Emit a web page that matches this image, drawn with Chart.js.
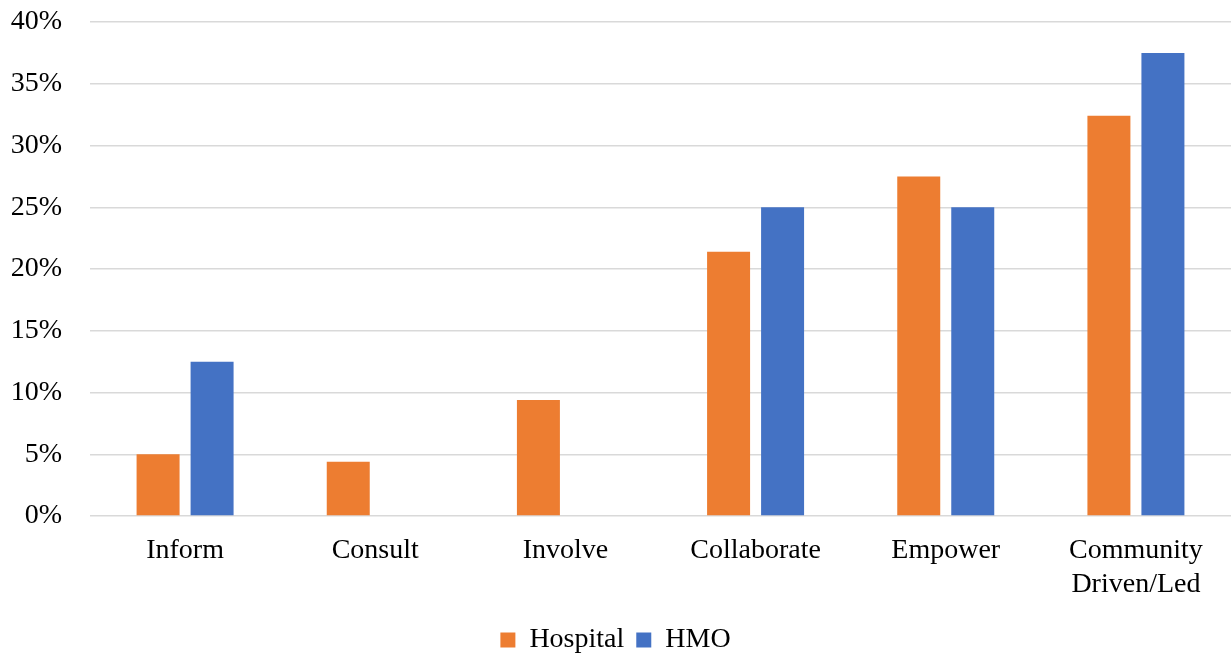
<!DOCTYPE html>
<html>
<head>
<meta charset="utf-8">
<script src="https://cdn.jsdelivr.net/npm/chart.js@4"></script>
<style>
  html, body { margin: 0; padding: 0; background: #fff; }
  #wrap { width: 1231px; height: 658px; }
</style>
</head>
<body>
<div id="wrap"><canvas id="chart"></canvas></div>
<script>
const categories = ['Inform', 'Consult', 'Involve', 'Collaborate', 'Empower', ['Community', 'Driven/Led']];
const hospital = [5.0, 4.4, 9.4, 21.4, 27.5, 32.4];
const hmo = [12.5, 0, 0, 25.0, 25.0, 37.5];
const yTicks = [0, 5, 10, 15, 20, 25, 30, 35, 40];

const serif = "'Liberation Serif', 'Times New Roman', serif";

document.addEventListener('DOMContentLoaded', function () {
    const ctx = document.getElementById('chart').getContext('2d');
    new Chart(ctx, {
        type: 'bar',
        data: {
            labels: categories,
            datasets: [{
                label: 'Hospital',
                data: hospital,
                backgroundColor: '#ed7d31',
                categoryPercentage: 0.568,
                barPercentage: 0.796
            }, {
                label: 'HMO',
                data: hmo,
                backgroundColor: '#4472c4',
                categoryPercentage: 0.568,
                barPercentage: 0.796
            }]
        },
        options: {
            responsive: true,
            maintainAspectRatio: false,
            animation: false,
            layout: { padding: { top: 0, left: 0, right: 0, bottom: -6 } },
            plugins: {
                tooltip: { enabled: false },
                legend: {
                    position: 'bottom',
                    labels: {
                        font: { family: serif, size: 28 },
                        color: '#000',
                        boxWidth: 15,
                        boxHeight: 15,
                        padding: 12
                    }
                }
            },
            scales: {
                x: {
                    grid: { display: false },
                    border: { display: false },
                    ticks: {
                        font: { family: serif, size: 28 },
                        color: '#000',
                        padding: 10,
                        maxRotation: 0
                    },
                    afterFit: function (axis) {
                        axis.height = 98;
                    }
                },
                y: {
                    min: 0,
                    max: 40,
                    afterBuildTicks: function (axis) {
                        axis.ticks = yTicks.map(v => ({ value: v }));
                    },
                    grid: { color: '#d9d9d9', lineWidth: 1.5, drawTicks: false },
                    border: { display: false },
                    ticks: {
                        font: { family: serif, size: 28 },
                        color: '#000',
                        padding: 28,
                        callback: v => v + '%'
                    },
                    afterFit: function (axis) {
                        axis.width = 90;
                        axis.paddingTop = 22;
                        axis.paddingBottom = 0;
                    }
                }
            }
        }
    });
});
</script>
</body>
</html>
